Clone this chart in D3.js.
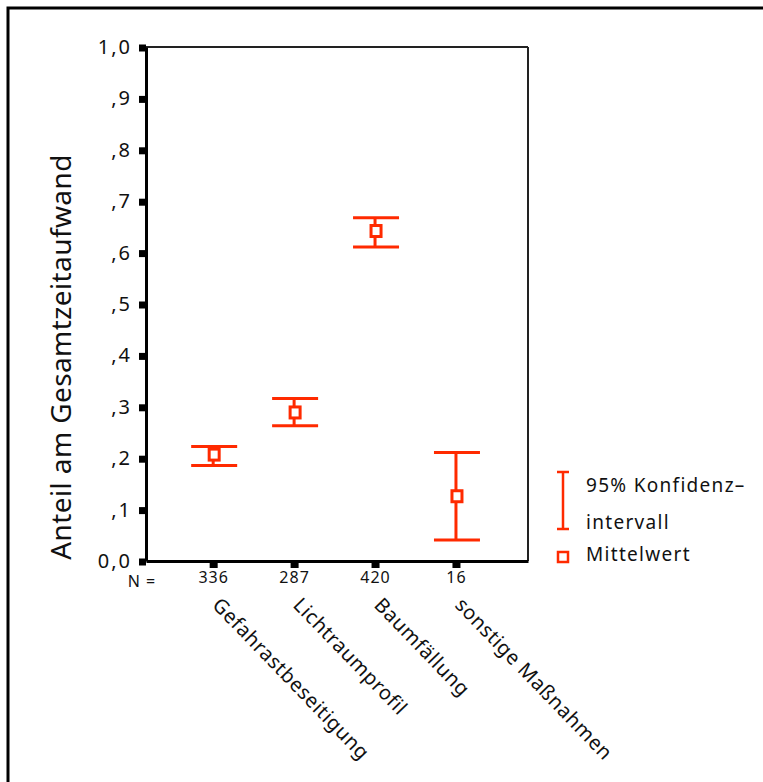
<!DOCTYPE html>
<html>
<head>
<meta charset="utf-8">
<script src="https://cdn.jsdelivr.net/npm/d3@7"></script>
<style>
  html, body { margin: 0; padding: 0; background: #fff; }
  svg { display: block; }
  svg text { font-family: "Noto Sans", "Open Sans", sans-serif; }
</style>
</head>
<body>
<svg id="chart" width="763" height="782"></svg>
<script>
// Mean share of total working time per measure, with 95% confidence intervals
const categories = ["Gefahrastbeseitigung", "Lichtraumprofil", "Baumfällung", "sonstige Maßnahmen"];
const nValues = [336, 287, 420, 16];
const means = [0.207, 0.289, 0.642, 0.126];
const ciLower = [0.186, 0.263, 0.611, 0.041];
const ciUpper = [0.223, 0.316, 0.668, 0.211];
const yTicks = [0, 0.1, 0.2, 0.3, 0.4, 0.5, 0.6, 0.7, 0.8, 0.9, 1.0];
const yTickLabels = ["0,0", ",1", ",2", ",3", ",4", ",5", ",6", ",7", ",8", ",9", "1,0"];

const red = "#ff2a00";
const ink = "#111";
const svg = d3.select("#chart");

// outer frame
svg.append("rect")
  .attr("x", 8).attr("y", 8).attr("width", 800).attr("height", 800)
  .attr("fill", "none").attr("stroke", "#000").attr("stroke-width", 3);

const plot = { left: 146, top: 47, right: 528, bottom: 561 };

const y = d3.scaleLinear().domain([0, 1]).range([plot.bottom, plot.top]);
const x = d3.scaleLinear().domain([-0.83, 3.89]).range([plot.left, plot.right]);

// plot box
svg.append("line").attr("x1", plot.left).attr("x2", plot.right)
  .attr("y1", plot.top).attr("y2", plot.top)
  .attr("stroke", "#222").attr("stroke-width", 2);
svg.append("line").attr("x1", plot.right).attr("x2", plot.right)
  .attr("y1", plot.top).attr("y2", plot.bottom)
  .attr("stroke", "#222").attr("stroke-width", 2);

// y axis with square tick marks
const yAxis = d3.axisLeft(y).tickValues(yTicks)
  .tickFormat((d, i) => yTickLabels[i]).tickSize(0).tickPadding(16);
const yg = svg.append("g").attr("transform", `translate(${plot.left},0)`).call(yAxis)
  .attr("font-family", null);
yg.select(".domain").attr("stroke", "#000").attr("stroke-width", 3);
yg.selectAll(".tick text").attr("font-size", 20).attr("fill", ink)
  .attr("letter-spacing", 2).attr("dx", 2);
yg.selectAll(".tick").append("rect")
  .attr("x", -7).attr("y", -3).attr("width", 7).attr("height", 7).attr("fill", "#000");

// x axis
const xAxis = d3.axisBottom(x).tickValues(d3.range(categories.length))
  .tickFormat(i => nValues[i]).tickSize(0).tickPadding(11);
const xg = svg.append("g").attr("transform", `translate(0,${plot.bottom})`).call(xAxis)
  .attr("font-family", null);
xg.select(".domain").attr("stroke", "#000").attr("stroke-width", 3);
xg.selectAll(".tick text").attr("font-size", 16).attr("fill", ink)
  .attr("letter-spacing", 1);
xg.selectAll(".tick").append("rect")
  .attr("x", -4).attr("y", 0).attr("width", 8).attr("height", 7).attr("fill", "#000");

svg.append("text").attr("x", 142).attr("y", 587)
  .attr("text-anchor", "middle").attr("font-size", 16).attr("fill", ink)
  .attr("letter-spacing", 1)
  .text("N =");

// rotated category labels
svg.selectAll(".cat").data(categories).join("text")
  .attr("class", "cat")
  .attr("transform", (d, i) => `translate(${x(i) - 2},${606}) rotate(46)`)
  .attr("font-size", 20).attr("letter-spacing", 0.6).attr("fill", ink)
  .text(d => d);

// y axis title
svg.append("text")
  .attr("transform", "translate(71,357) rotate(-90)")
  .attr("text-anchor", "middle").attr("font-size", 28).attr("fill", ink)
  .attr("letter-spacing", 0.4)
  .text("Anteil am Gesamtzeitaufwand");

// error bars
const capHalf = 23;
const g = svg.append("g").attr("stroke", red).attr("stroke-width", 3).attr("fill", "none");
categories.forEach((c, i) => {
  const cx = x(i);
  g.append("line").attr("x1", cx).attr("x2", cx).attr("y1", y(ciUpper[i])).attr("y2", y(ciLower[i]));
  g.append("line").attr("x1", cx - capHalf + 1).attr("x2", cx + capHalf + 1)
    .attr("y1", y(ciUpper[i])).attr("y2", y(ciUpper[i]));
  g.append("line").attr("x1", cx - capHalf + 1).attr("x2", cx + capHalf + 1)
    .attr("y1", y(ciLower[i])).attr("y2", y(ciLower[i]));
  g.append("rect").attr("x", cx - 4).attr("y", y(means[i]) - 5.5)
    .attr("width", 10).attr("height", 11).attr("fill", "#fff");
});

// legend
const lg = svg.append("g");
lg.append("line").attr("x1", 563).attr("x2", 563).attr("y1", 472).attr("y2", 529)
  .attr("stroke", red).attr("stroke-width", 2.5);
lg.append("line").attr("x1", 557).attr("x2", 569).attr("y1", 472).attr("y2", 472)
  .attr("stroke", red).attr("stroke-width", 2.5);
lg.append("line").attr("x1", 557).attr("x2", 569).attr("y1", 529).attr("y2", 529)
  .attr("stroke", red).attr("stroke-width", 2.5);
lg.append("rect").attr("x", 558).attr("y", 552).attr("width", 10).attr("height", 10)
  .attr("fill", "#fff").attr("stroke", red).attr("stroke-width", 2.5);
const legendText = [
  { t: "95% Konfidenz–", y: 492 },
  { t: "intervall", y: 529 },
  { t: "Mittelwert", y: 561 }
];
lg.selectAll(".lt").data(legendText).join("text")
  .attr("class", "lt")
  .attr("x", 586).attr("y", d => d.y)
  .attr("font-size", 19).attr("letter-spacing", 1.3).attr("fill", ink)
  .text(d => d.t);
</script>
</body>
</html>
